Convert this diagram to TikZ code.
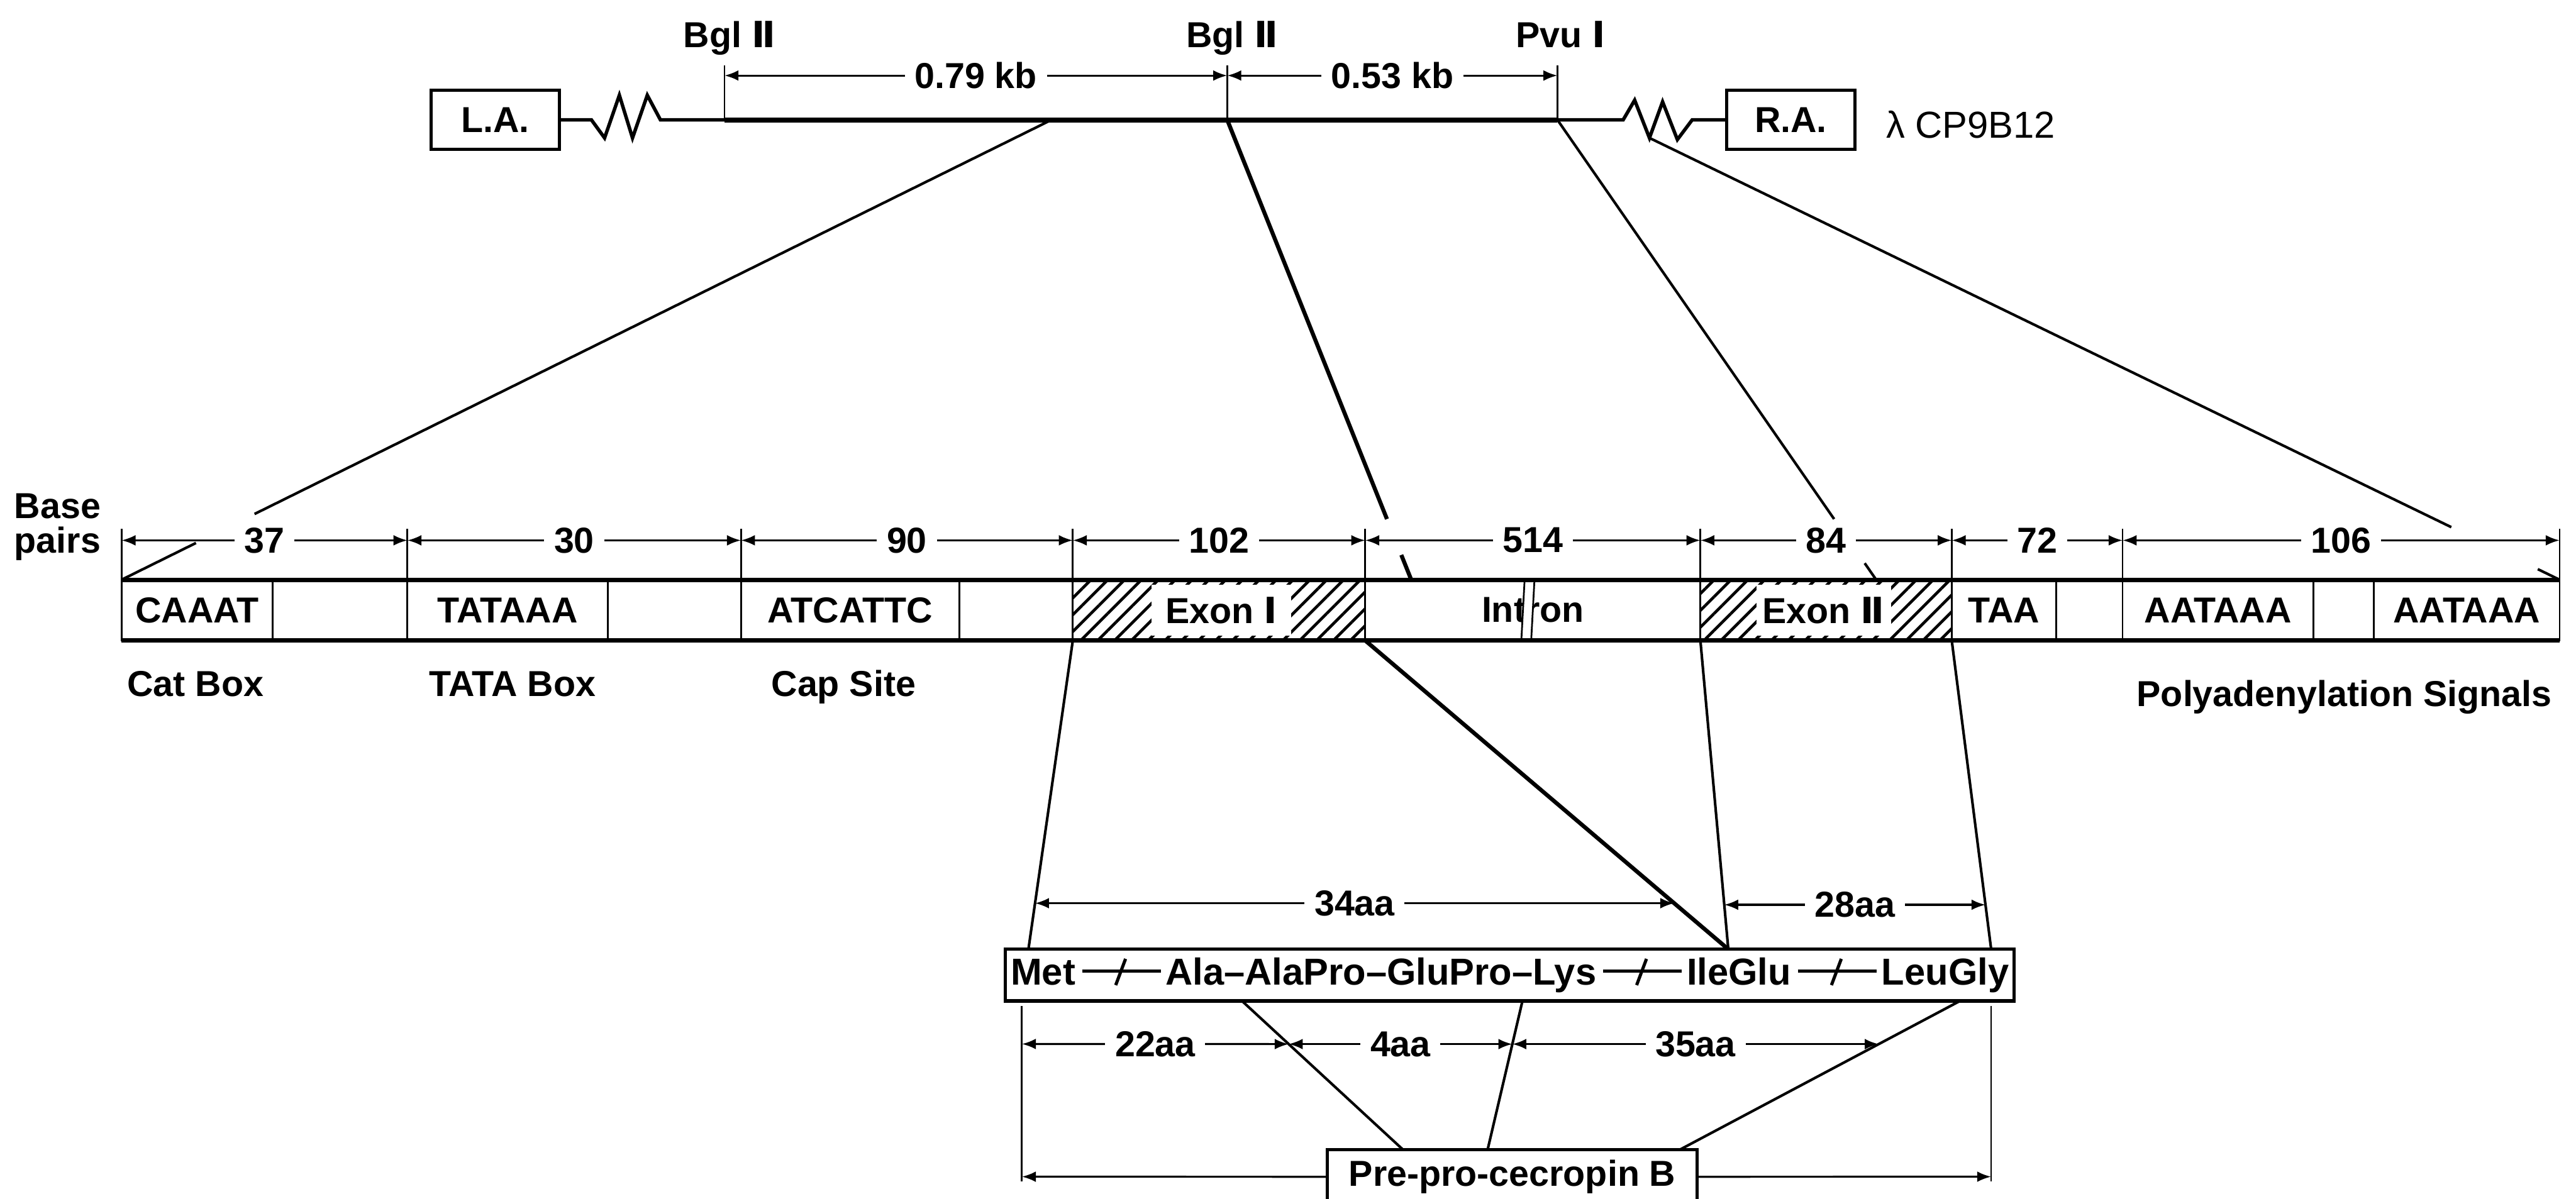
\documentclass[tikz,border=0pt]{standalone}
\usepackage{fontspec}
\setmainfont{Liberation Sans}
\newfontfamily\romfont{DejaVu Sans}
\usetikzlibrary{arrows.meta,calc,positioning,patterns.meta}

\newcommand{\rmn}[1]{{\romfont\bfseries #1}}
\newcommand{\pcut}{\hspace{0.6mm}\tikz[baseline=-1.7mm]{\draw[line width=1.2pt] (0,0) -- (9.6mm,0); \draw[line width=1.1pt] (4.1mm,-1.7mm) -- (5.3mm,1.5mm);}\hspace{0.4mm}}

\tikzset{
	dimtip/.tip={Latex[length=1.7mm,width=1.3mm]},
	seg/.style={draw, line width=0.6pt, minimum height=7.4mm, inner sep=0pt, outer sep=0pt},
	exon/.style={seg, pattern={Lines[angle=45,distance=1.45mm,line width=1pt]}},
	exlbl/.style={fill=white, minimum height=6.2mm, inner sep=0pt},
	endbox/.style={draw, line width=1pt, minimum width=15.6mm, minimum height=7.2mm, outer sep=0pt},
	dim/.style={line width=0.7pt, dimtip-dimtip},
	dimlbl/.style={fill=white, inner xsep=1.2mm, inner ysep=0.5mm},
	fan/.style={line width=0.9pt},
	tick/.style={line width=0.6pt}
}

\begin{document}
\begin{tikzpicture}[x=0.2mm, y=0.2mm, font=\bfseries\fontsize{12.5}{14}\selectfont]
	\useasboundingbox (0,0) rectangle (1568,730);

	% 克隆 lambda CP9B12
	\node[endbox] (la) at (301.5,657) {L.A.};
	\node[endbox] (ra) at (1090,657) {R.A.};
	\node[anchor=west, font=\mdseries\fontsize{13}{15}\selectfont] (clone) at (1142,654) {λ CP9B12};

	\coordinate (bglA) at (441,657);
	\coordinate (bglB) at (747,657);
	\coordinate (pvu) at (948,657);
	\coordinate (ins) at (640,657);

	\draw[line width=1.2pt] (la.east) -- (360,657) -- (368,646) -- (377,672) -- (385,646) -- (394,672) -- (402,657) -- (bglA);
	\draw[line width=1.8pt] (bglA) -- (pvu);
	\draw[line width=1.2pt] (pvu) -- (988,657) -- (995,669) -- (1004,646) coordinate (zz) -- (1012,668) -- (1021,645) -- (1030,657) -- (ra.west);

	\draw[tick] (bglA) -- ++(0,33);
	\draw[tick] (bglB) -- ++(0,33);
	\draw[tick] (pvu) -- ++(0,33);
	\node[anchor=base] (siteA) at ($(bglA)+(3,44)$) {Bgl \rmn{Ⅱ}};
	\node[anchor=base] (siteB) at ($(bglB)+(3,44)$) {Bgl \rmn{Ⅱ}};
	\node[anchor=base] (siteC) at ($(pvu)+(2,44)$) {Pvu \rmn{Ⅰ}};
	\draw[dim] ($(bglA)+(0,27)$) -- node[dimlbl] (kbA) {0.79 kb} ($(bglB)+(0,27)$);
	\draw[dim] ($(bglB)+(0,27)$) -- node[dimlbl] (kbB) {0.53 kb} ($(pvu)+(0,27)$);

	% 基因结构
	\node[seg, minimum width=18.4mm, anchor=south west] (caat) at (74,340) {CAAAT};
	\node[seg, minimum width=16.4mm, right=0pt of caat] (spA) {};
	\node[seg, minimum width=24.4mm, right=0pt of spA] (tata) {TATAAA};
	\node[seg, minimum width=16.2mm, right=0pt of tata] (spB) {};
	\node[seg, minimum width=26.6mm, right=0pt of spB] (cap) {ATCATTC};
	\node[seg, minimum width=13.8mm, right=0pt of cap] (spC) {};
	\node[exon, minimum width=35.6mm, right=0pt of spC] (exA) {};
	\node[seg, minimum width=40.8mm, right=0pt of exA] (intron) {Intron};
	\node[exon, minimum width=30.6mm, right=0pt of intron] (exB) {};
	\node[seg, minimum width=12.7mm, right=0pt of exB] (taa) {TAA};
	\node[seg, minimum width=8.1mm, right=0pt of taa] (spD) {};
	\node[seg, minimum width=23.2mm, right=0pt of spD] (polyA) {AATAAA};
	\node[seg, minimum width=7.4mm, right=0pt of polyA] (spE) {};
	\node[seg, minimum width=22.6mm, right=0pt of spE] (polyB) {AATAAA};

	\node[exlbl, minimum width=17mm] (exAtxt) at ($(exA.center)+(1.5,0)$) {Exon \rmn{Ⅰ}};
	\node[exlbl, minimum width=16.4mm] (exBtxt) at ($(exB.center)+(-1.5,0)$) {Exon \rmn{Ⅱ}};

	% 内含子断开
	\fill[white] ($(intron.north west)+(97,-1)$) -- ++(6,0) -- ++(-2,-35) -- ++(-6,0) -- cycle;
	\draw[tick] ($(intron.north west)+(97,0)$) -- ++(-2,-37);
	\draw[tick] ($(intron.north west)+(103,0)$) -- ++(-2,-37);

	\draw[line width=1.5pt] (caat.north west) -- (polyB.north east);
	\draw[line width=1.5pt] (caat.south west) -- (polyB.south east);

	\foreach \a in {caat.north west,tata.north west,cap.north west,exA.north west,exA.north east,exB.north west,exB.north east,polyA.north west,polyB.north east}
		\draw[tick] (\a) -- ++(0,31);

	\draw[dim] ($(caat.north west)+(0,24)$) -- node[dimlbl] (n37) {37} ($(tata.north west)+(0,24)$);
	\draw[dim] ($(tata.north west)+(0,24)$) -- node[dimlbl] (n30) {30} ($(cap.north west)+(0,24)$);
	\draw[dim] ($(cap.north west)+(0,24)$) -- node[dimlbl] (n90) {90} ($(exA.north west)+(0,24)$);
	\draw[dim] ($(exA.north west)+(0,24)$) -- node[dimlbl] (n102) {102} ($(exA.north east)+(0,24)$);
	\draw[dim] ($(exA.north east)+(0,24)$) -- node[dimlbl] (n514) {514} ($(exB.north west)+(0,24)$);
	\draw[dim] ($(exB.north west)+(0,24)$) -- node[dimlbl] (n84) {84} ($(exB.north east)+(0,24)$);
	\draw[dim] ($(exB.north east)+(0,24)$) -- node[dimlbl] (n72) {72} ($(polyA.north west)+(0,24)$);
	\draw[dim] ($(polyA.north west)+(0,24)$) -- node[dimlbl] (n106) {106} ($(polyB.north east)+(0,24)$);

	\node[align=center, font=\bfseries\fontsize{12.5}{12}\selectfont, inner sep=0pt] (bp) at (35,409) {Base\\pairs};
	\node[anchor=base] (catbox) at ($(caat.south)+(-1,-34)$) {Cat Box};
	\node[anchor=base] (tatabox) at ($(tata.south)+(3,-34)$) {TATA Box};
	\node[anchor=base] (capsite) at ($(cap.south)+(-4,-34)$) {Cap Site};
	\node[anchor=base] (polysig) at (1427,300) {Polyadenylation Signals};

	% 克隆到基因
	\coordinate (endB) at ($(intron.north west)+(28,0)$);
	\coordinate (endC) at ($(exB.north west)+(107,0)$);
	\draw[fan] (ins) -- ($(ins)!0.857!(caat.north west)$) ($(ins)!0.92!(caat.north west)$) -- (caat.north west);
	\draw[fan, line width=1.4pt] (bglB) -- ($(bglB)!0.868!(endB)$) ($(bglB)!0.946!(endB)$) -- (endB);
	\draw[fan] (pvu) -- ($(pvu)!0.868!(endC)$) ($(pvu)!0.964!(endC)$) -- (endC);
	\draw[fan] (zz) -- ($(zz)!0.881!(polyB.north east)$) ($(zz)!0.976!(polyB.north east)$) -- (polyB.north east);

	% 蛋白质
	\node[draw, line width=1.2pt, inner sep=0pt, outer sep=0pt, minimum width=122.8mm, minimum height=6.3mm, font=\bfseries\fontsize{13}{15}\selectfont] (protein) at (919,136.3) {Met\pcut Ala–AlaPro–GluPro–Lys\pcut IleGlu\pcut LeuGly};
	\coordinate (pA) at ($(protein.north west)+(14,0)$);
	\coordinate (pB) at ($(protein.north west)+(440,0)$);
	\coordinate (pC) at ($(protein.north west)+(600,0)$);
	\draw[fan] (exA.south west) -- (pA);
	\draw[fan, line width=1.4pt] (exA.south east) -- (pB);
	\draw[fan] (exB.south west) -- (pB);
	\draw[fan] (exB.south east) -- (pC);
	\draw[dim] ($(exA.south west)!0.851!(pA)$) -- node[dimlbl] (aa34) {34aa} ($(exA.south east)!0.851!(pB)$);
	\draw[dim] ($(exB.south west)!0.856!(pB)$) -- node[dimlbl] (aa28) {28aa} ($(exB.south east)!0.856!(pC)$);

	\node[draw, line width=1.2pt, inner sep=0pt, outer sep=0pt, minimum width=45mm, minimum height=6.6mm] (prepro) at (920.5,13.5) {Pre-pro-cecropin B};
	\coordinate (qA) at ($(protein.south west)+(144,0)$);
	\coordinate (qB) at ($(protein.south west)+(314.7,0)$);
	\coordinate (qC) at ($(protein.south west)+(581,0)$);
	\coordinate (rA) at ($(prepro.north west)+(46,0)$);
	\coordinate (rB) at ($(prepro.north west)+(97.5,0)$);
	\coordinate (rC) at ($(prepro.north west)+(214.5,0)$);
	\draw[fan] (qA) -- (rA);
	\draw[fan] (qB) -- (rB);
	\draw[fan] (qC) -- (rC);

	\coordinate (vL) at ($(protein.south west)+(10,-3)$);
	\coordinate (vR) at ($(protein.south west)+(600,-3)$);
	\draw[tick] (vL) -- ++(0,-107);
	\draw[tick] (vR) -- ++(0,-107);
	\draw[dim] ($(vL)+(0,-23.2)$) -- node[dimlbl] (aa22) {22aa} ($(qA)!0.29!(rA)$);
	\draw[dim] ($(qA)!0.29!(rA)$) -- node[dimlbl] (aa4) {4aa} ($(qB)!0.29!(rB)$);
	\draw[dim] ($(qB)!0.29!(rB)$) -- node[dimlbl] (aa35) {35aa} ($(qC)!0.29!(rC)$);
	\draw[line width=0.7pt, dimtip-] ($(vL)+(0,-104)$) -- (prepro.west);
	\draw[line width=0.7pt, -dimtip] (prepro.east) -- ($(vR)+(0,-104)$);
\end{tikzpicture}
\end{document}
